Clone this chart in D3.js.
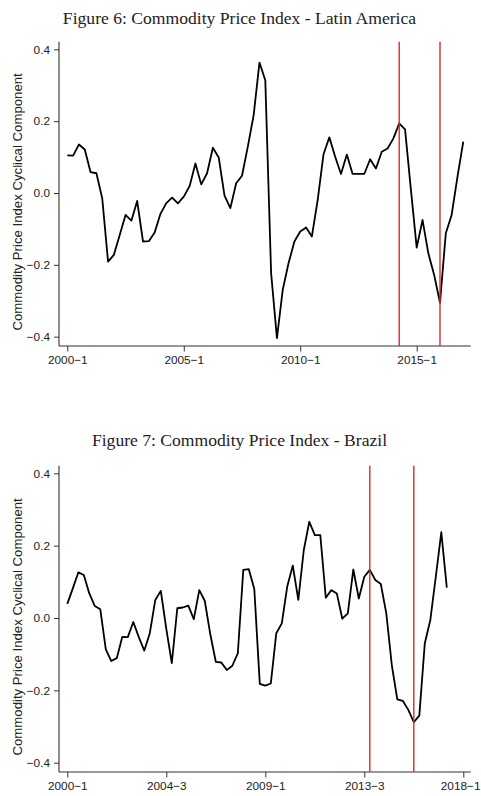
<!DOCTYPE html>
<html>
<head>
<meta charset="utf-8">
<script src="https://cdn.jsdelivr.net/npm/d3@7"></script>
<style>
  body { margin: 0; background: #fff; }
</style>
</head>
<body>
<script>
// cyclical component of the commodity price index, quarterly, first obs 2000-1
let latamValues = [
  0.105, 0.104, 0.135, 0.121, 0.058, 0.055, -0.015, -0.191, -0.172, -0.117,
  -0.061, -0.077, -0.022, -0.135, -0.134, -0.110, -0.058, -0.028, -0.013, -0.029,
  -0.010, 0.019, 0.082, 0.024, 0.055, 0.126, 0.099, -0.007, -0.042, 0.027,
  0.048, 0.129, 0.217, 0.363, 0.314, -0.223, -0.404, -0.269, -0.195, -0.135,
  -0.107, -0.096, -0.121, -0.019, 0.108, 0.155, 0.101, 0.053, 0.107, 0.053,
  0.053, 0.053, 0.094, 0.068, 0.115, 0.124, 0.152, 0.194, 0.177, 0.010,
  -0.152, -0.075, -0.168, -0.228, -0.306, -0.112, -0.061, 0.045, 0.143
];
let brazilValues = [
  0.039, 0.082, 0.126, 0.119, 0.068, 0.033, 0.024, -0.087, -0.119, -0.111,
  -0.052, -0.053, -0.011, -0.053, -0.090, -0.042, 0.050, 0.075, -0.030, -0.125,
  0.027, 0.029, 0.034, -0.003, 0.077, 0.047, -0.045, -0.121, -0.123, -0.144,
  -0.132, -0.098, 0.133, 0.135, 0.080, -0.182, -0.187, -0.181, -0.042, -0.015,
  0.088, 0.145, 0.050, 0.188, 0.266, 0.229, 0.229, 0.056, 0.077, 0.068,
  -0.002, 0.013, 0.134, 0.054, 0.114, 0.133, 0.105, 0.094, 0.013, -0.130,
  -0.225, -0.229, -0.254, -0.288, -0.270, -0.070, -0.006, 0.114, 0.237, 0.084
];
let latamTicks = ["2000−1", "2005−1", "2010−1", "2015−1"];
let brazilTicks = ["2000−1", "2004−3", "2009−1", "2013−3", "2018−1"];
let latamBreaks = ["2014−2", "2016−1"];
let brazilBreaks = ["2013−4", "2015−4"];
let yTicks = [-0.4, -0.2, 0, 0.2, 0.4];

let width = 481;
let height = 796;

// quarter labels, same style as the axis ("2000−1")
let quarters = d3.range(80).map((i) => `${2000 + Math.floor(i / 4)}−${(i % 4) + 1}`);

let svg = d3
  .select("body")
  .append("svg")
  .attr("width", width)
  .attr("height", height);

let sans = "'Liberation Sans', Arial, sans-serif";

let drawChart = (opt) => {
  let g = svg.append("g");

  let lastTick = quarters.indexOf(opt.ticks[opt.ticks.length - 1]);
  let x = d3.scaleLinear().domain([0, lastTick]).range([67.3, opt.lastTickX]);
  let y = d3.scaleLinear().domain([-0.4, 0.4]).range([opt.yBottom, opt.yTop]);

  let axisTop = opt.yTop - 7.5;
  let axisBottom = opt.yBottom + 9.3;
  let axisLeft = 59;
  let axisRight = 470.7;

  // title
  g.append("text")
    .attr("x", 239.5)
    .attr("y", opt.titleY)
    .attr("text-anchor", "middle")
    .attr("font-family", "'Liberation Serif', serif")
    .attr("font-size", 17.6)
    .attr("fill", "#222")
    .text(opt.title);

  // y axis
  let yAxis = g
    .append("g")
    .attr("transform", `translate(${axisLeft},0)`)
    .call(
      d3.axisLeft(y).tickValues(yTicks).tickSize(5).tickPadding(4).tickFormat(d3.format(".1f"))
    );
  yAxis.select(".domain").remove();
  yAxis.selectAll("line").attr("stroke", "#333");
  yAxis
    .selectAll("text")
    .attr("font-family", sans)
    .attr("font-size", 11.8)
    .attr("fill", "#222");

  // x axis
  let xAxis = g
    .append("g")
    .attr("transform", `translate(0,${axisBottom})`)
    .call(
      d3
        .axisBottom(x)
        .tickValues(opt.ticks.map((t) => quarters.indexOf(t)))
        .tickSize(5.5)
        .tickPadding(4)
        .tickFormat((d) => quarters[d])
    );
  xAxis.select(".domain").remove();
  xAxis.selectAll("line").attr("stroke", "#333");
  xAxis
    .selectAll("text")
    .attr("font-family", sans)
    .attr("font-size", 11.8)
    .attr("fill", "#222");

  // keep a label that runs past the right edge inside the page
  xAxis.selectAll("text").each(function () {
    let box = this.getBoundingClientRect();
    if (box.right > width) d3.select(this).attr("dx", width - box.right - 0.5);
  });

  g.append("line")
    .attr("x1", axisLeft)
    .attr("x2", axisLeft)
    .attr("y1", axisTop)
    .attr("y2", axisBottom)
    .attr("stroke", "#333")
    .attr("stroke-width", 1.1);
  g.append("line")
    .attr("x1", axisLeft)
    .attr("x2", axisRight)
    .attr("y1", axisBottom)
    .attr("y2", axisBottom)
    .attr("stroke", "#333")
    .attr("stroke-width", 1.1);

  // y axis title (sits a little below the axis centre, as in the original)
  g.append("text")
    .attr("transform", "rotate(-90)")
    .attr("x", -((axisTop + axisBottom) / 2 + 8))
    .attr("y", 22.2)
    .attr("text-anchor", "middle")
    .attr("font-family", sans)
    .attr("font-size", 13.2)
    .attr("fill", "#222")
    .text("Commodity Price Index Cyclical Component");

  // series
  g.append("path")
    .datum(opt.values)
    .attr("fill", "none")
    .attr("stroke", "#000")
    .attr("stroke-width", 1.8)
    .attr("stroke-linejoin", "round")
    .attr(
      "d",
      d3
        .line()
        .x((d, i) => x(i))
        .y((d) => y(d))
    );

  // red reference lines
  g.selectAll(".break")
    .data(opt.breaks)
    .enter()
    .append("line")
    .attr("class", "break")
    .attr("x1", (d) => x(quarters.indexOf(d)))
    .attr("x2", (d) => x(quarters.indexOf(d)))
    .attr("y1", axisTop)
    .attr("y2", axisBottom)
    .attr("stroke", "#dc2a2e")
    .attr("stroke-width", 1.4);
};

drawChart({
  title: "Figure 6: Commodity Price Index - Latin America",
  titleY: 24,
  values: latamValues,
  ticks: latamTicks,
  breaks: latamBreaks,
  lastTickX: 416.7,
  yTop: 49.3,
  yBottom: 336.7,
});

drawChart({
  title: "Figure 7: Commodity Price Index - Brazil",
  titleY: 446,
  values: brazilValues,
  ticks: brazilTicks,
  breaks: brazilBreaks,
  lastTickX: 463.3,
  yTop: 473.3,
  yBottom: 762.7,
});
</script>
</body>
</html>
